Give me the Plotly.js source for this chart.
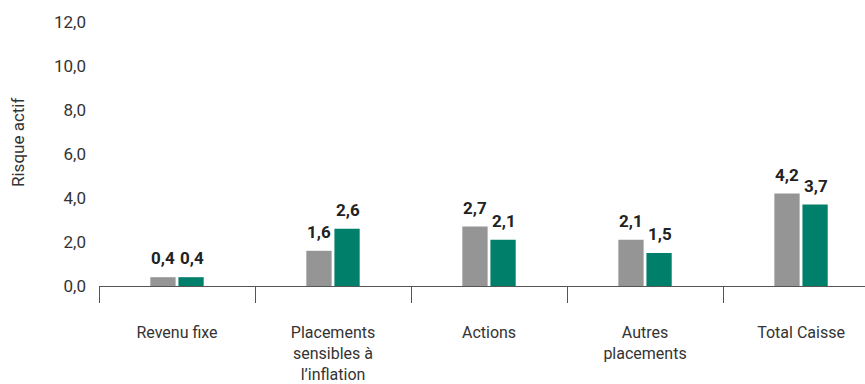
<!DOCTYPE html>
<html>
<head>
<meta charset="utf-8">
<script src="https://cdn.plot.ly/plotly-3.0.1.min.js"></script>
<style>html,body{margin:0;padding:0;background:#fff;}#chart{width:865px;height:384px;}</style>
</head>
<body>
<div id="chart"></div>
<script>
const categories = ["Revenu fixe", "Placements<br>sensibles à<br>l’inflation", "Actions", "Autres<br>placements", "Total Caisse"];
const seriesGray = [0.4, 1.6, 2.7, 2.1, 4.2];
const seriesGreen = [0.4, 2.6, 2.1, 1.5, 3.7];
const yTicks = [0, 2, 4, 6, 8, 10, 12];
const yTitle = "Risque actif";

const font = "Roboto, Liberation Sans, Arial, sans-serif";
const colors = ["#959595", "#00806a"];

const traces = [
  {type: "bar", x: categories, y: seriesGray, name: "A", marker: {color: colors[0]}, cliponaxis: false},
  {type: "bar", x: categories, y: seriesGreen, name: "B", marker: {color: colors[1]}, cliponaxis: false}
];

const fmt = v => v.toFixed(1).replace(".", ",");
const labelAnns = [];
[seriesGray, seriesGreen].forEach((series, si) => {
  series.forEach((v, i) => {
    labelAnns.push({
      xref: "x", yref: "y", x: categories[i], y: v,
      xshift: si === 0 ? -14.5 : 14.5, yshift: 19,
      xanchor: "center", yanchor: "middle", showarrow: false,
      text: "<b>" + fmt(v) + "</b>",
      font: {family: font, size: 17, color: "#222"}
    });
  });
});

const layout = {
  width: 865, height: 384,
  margin: {l: 99, r: 0, t: 22, b: 98},
  paper_bgcolor: "#fff", plot_bgcolor: "#fff",
  font: {family: font, size: 16, color: "#333"},
  separators: ",.",
  showlegend: false,
  barmode: "group", bargap: 0.64, bargroupgap: 0.1,
  xaxis: {type: "category", range: [-0.5, 4.41], showline: true, linecolor: "#555", linewidth: 1,
          ticks: "outside", tickson: "boundaries", ticklen: 16, tickcolor: "#555", tickwidth: 1,
          showgrid: false, zeroline: false, ticklabelstandoff: 32,
          tickfont: {family: font, size: 16, color: "#333"}},
  yaxis: {range: [0, 12], tickvals: yTicks, tickformat: ".1f", showgrid: false, zeroline: false,
          showline: false, ticks: "", ticklabelstandoff: 12,
          tickfont: {family: font, size: 17, color: "#333"}},
  annotations: [{text: yTitle, textangle: -90, xref: "paper", x: 0, xanchor: "center", xshift: -81,
                 yref: "y", y: 6.5, yanchor: "middle", showarrow: false,
                 font: {family: font, size: 17, color: "#333"}}].concat(labelAnns)
};

Plotly.newPlot("chart", traces, layout, {displayModeBar: false, staticPlot: true});
</script>
</body>
</html>
